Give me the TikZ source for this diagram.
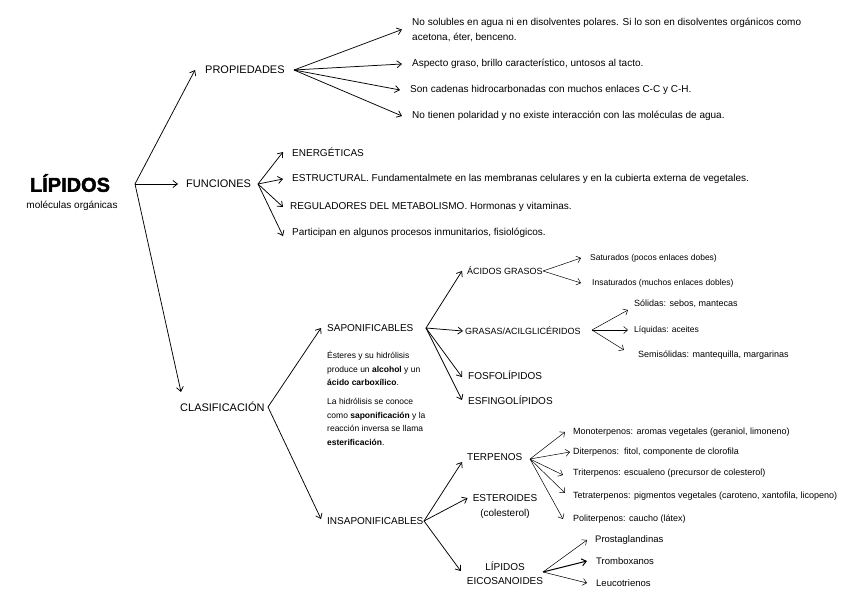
\documentclass[tikz,border=0pt]{standalone}
\usepackage{fontspec}
\setmainfont{Liberation Sans}
\newfontfamily\titlefont{Liberation Sans}[BoldFeatures={FakeBold=2}]
\usepackage{tikz}
\usetikzlibrary{positioning,arrows.meta}

\tikzset{
  arr/.style={-{Straight Barb[length=4.5pt,width=7pt]}, line width=0.75pt},
  arrthin/.style={-{Straight Barb[length=4pt,width=7pt]}, line width=0.5pt},
  head/.style={anchor=west, inner sep=0pt, font=\fontsize{11}{13}\selectfont},
  mid/.style={anchor=west, inner sep=0pt, font=\fontsize{10}{12}\selectfont},
  item/.style={anchor=west, inner sep=0pt, align=left, font=\fontsize{10}{15}\selectfont},
  tiny/.style={anchor=west, inner sep=0pt, font=\fontsize{9}{10}\selectfont},
}

\begin{document}
\begin{tikzpicture}[x=1pt,y=-1pt]
        \useasboundingbox (0,0) rectangle (848,599);
        % Title
        \node[font=\fontsize{20}{22}\selectfont\titlefont\bfseries] (lipidos) at (70,183) {LÍPIDOS};
        \node[font=\fontsize{10}{12}\selectfont] (molec) at (72,206) {moléculas orgánicas};
        \coordinate (root) at (135,184);
        % First level
        \node[head] (prop) at (205,70) {PROPIEDADES};
        \node[head] (func) at (186,184) {FUNCIONES};
        \node[head] (clas) at (180,407) {CLASIFICACIÓN};
        \draw[arr] (root) -- ([xshift=-10pt]prop.west);
        \draw[arr] (root) -- ([xshift=-8pt]func.west);
        \draw[arr] (root) -- ([xshift=1pt,yshift=10pt]clas.north west);
        % Propiedades
        \node[item] (p1) at (412,29.5) {No solubles en agua ni en disolventes polares. Si lo son en disolventes orgánicos como\\acetona, éter, benceno.};
        \node[item] (p2) at (412,64) {Aspecto graso, brillo característico, untosos al tacto.};
        \node[item] (p3) at (410,90) {Son cadenas hidrocarbonadas con muchos enlaces C-C y C-H.};
        \node[item] (p4) at (412,116) {No tienen polaridad y no existe interacción con las moléculas de agua.};
        \coordinate (propR) at (294,70);
        \foreach \n in {p1,p2,p3,p4}
          \draw[arr] (propR) -- ([xshift=-10pt]\n.west);
        % Funciones
        \node[item] (f1) at (292,152) {ENERGÉTICAS};
        \node[item] (f2) at (292,179) {ESTRUCTURAL. Fundamentalmete en las membranas celulares y en la cubierta externa de vegetales.};
        \node[item] (f3) at (290,207) {REGULADORES DEL METABOLISMO. Hormonas y vitaminas.};
        \node[item] (f4) at (292,233) {Participan en algunos procesos inmunitarios, fisiológicos.};
        \coordinate (funcR) at (258,184);
        \draw[arr] (funcR) -- ([xshift=-9pt]f1.west);
        \draw[arr] (funcR) -- ([xshift=-9pt]f2.west);
        \draw[arr] (funcR) -- ([xshift=-7pt]f3.west);
        \draw[arr] (funcR) -- ([xshift=-9pt,yshift=-3pt]f4.west);
        % Clasificacion
        \node[mid] (sapo) at (327,328) {SAPONIFICABLES};
        \node[mid] (insap) at (327,521) {INSAPONIFICABLES};
        \coordinate (clasR) at (268,407);
        \draw[arr] (clasR) -- ([xshift=-6pt]sapo.west);
        \draw[arr] (clasR) -- ([xshift=-6pt,yshift=2pt]insap.west);
        \node[anchor=north west, inner sep=0pt, align=left, font=\fontsize{8.5}{13.5}\selectfont] (note) at (327,351)
          {Ésteres y su hidrólisis\\produce un \textbf{alcohol} y un\\\textbf{ácido carboxílico}.\\[5.5pt]
           La hidrólisis se conoce\\como \textbf{saponificación} y la\\reacción inversa se llama\\\textbf{esterificación}.};
        % Saponificables
        \node[item, font=\fontsize{9}{11}\selectfont] (acid) at (467,271) {ÁCIDOS GRASOS};
        \node[item, font=\fontsize{9}{11}\selectfont] (gras) at (465,331) {GRASAS/ACILGLICÉRIDOS};
        \node[mid] (fosf) at (468,375) {FOSFOLÍPIDOS};
        \node[mid] (esfi) at (468,400) {ESFINGOLÍPIDOS};
        \coordinate (sapoR) at (426,328);
        \draw[arr] (sapoR) -- ([xshift=-5pt]acid.west);
        \draw[arr] (sapoR) -- ([xshift=-2pt]gras.west);
        \draw[arr] (sapoR) -- ([xshift=-6pt,yshift=-2pt]fosf.west);
        \draw[arr] (sapoR) -- ([xshift=-6pt]esfi.west);
        % Acidos grasos
        \node[tiny, font=\fontsize{8.5}{10}\selectfont] (satu) at (590,258) {Saturados (pocos enlaces dobes)};
        \node[tiny, font=\fontsize{8.5}{10}\selectfont] (insa) at (592,283) {Insaturados (muchos enlaces dobles)};
        \coordinate (acidR) at (543,271);
        \draw[arrthin] (acidR) -- ([xshift=-9pt]satu.west);
        \draw[arrthin] (acidR) -- ([xshift=-11pt]insa.west);
        % Grasas
        \node[tiny] (soli) at (634,304) {Sólidas: sebos, mantecas};
        \node[tiny, font=\fontsize{8.5}{10}\selectfont] (liqu) at (634,330) {Líquidas: aceites};
        \node[tiny] (semi) at (638,355) {Semisólidas: mantequilla, margarinas};
        \coordinate (grasR) at (592,330);
        \draw[arrthin] (grasR) -- ([xshift=-6pt,yshift=-6pt]soli.west);
        \draw[arrthin] (grasR) -- ([xshift=-6pt]liqu.west);
        \draw[arrthin] (grasR) -- ([xshift=-14pt,yshift=5pt]semi.west);
        % Insaponificables
        \node[mid] (terp) at (467,457) {TERPENOS};
        \node[mid, anchor=center, align=center, font=\fontsize{10}{15}\selectfont] (ester) at (505,507) {ESTEROIDES\\(colesterol)};
        \node[mid, anchor=center, align=center, font=\fontsize{10}{14}\selectfont] (eico) at (505,573) {LÍPIDOS\\EICOSANOIDES};
        \coordinate (insapR) at (424,521);
        \draw[arr] (insapR) -- ([xshift=-5pt,yshift=-5pt]terp.west);
        \draw[arr] (insapR) -- ([xshift=-5pt,yshift=9pt]ester.west);
        \draw[arr] (insapR) -- ([xshift=-6pt,yshift=2pt]eico.west);
        % Terpenos
        \node[tiny] (mono) at (573,432) {Monoterpenos: aromas vegetales (geraniol, limoneno)};
        \node[tiny] (dite) at (573,452) {Diterpenos:\ \ fitol, componente de clorofila};
        \node[tiny] (trit) at (573,473) {Triterpenos: escualeno (precursor de colesterol)};
        \node[tiny] (tetr) at (573,496) {Tetraterpenos: pigmentos vegetales (caroteno, xantofila, licopeno)};
        \node[tiny] (poli) at (573,519) {Politerpenos: caucho (látex)};
        \coordinate (terpR) at (530,459);
        \draw[arrthin] (terpR) -- ([xshift=-8pt]mono.west);
        \draw[arrthin] (terpR) -- ([xshift=-3pt]dite.west);
        \draw[arrthin] (terpR) -- ([xshift=-10pt,yshift=-2pt]trit.west);
        \draw[arrthin] (terpR) -- ([xshift=-8pt,yshift=3pt]tetr.west);
        \draw[arrthin] (terpR) -- ([xshift=-10pt]poli.west);
        % Eicosanoides
        \node[tiny, font=\fontsize{9.5}{11}\selectfont] (pros) at (595,540) {Prostaglandinas};
        \node[tiny, font=\fontsize{9.5}{11}\selectfont] (trom) at (596,561) {Tromboxanos};
        \node[tiny, font=\fontsize{9.5}{11}\selectfont] (leuc) at (596,583) {Leucotrienos};
        \coordinate (eicoR) at (543,572);
        \draw[arrthin] (eicoR) -- ([xshift=-8pt]pros.west);
        \draw[arr, line width=1pt] (eicoR) -- ([xshift=-9pt]trom.west);
        \draw[arrthin] (eicoR) -- ([xshift=-9pt]leuc.west);
    \end{tikzpicture}
\end{document}
